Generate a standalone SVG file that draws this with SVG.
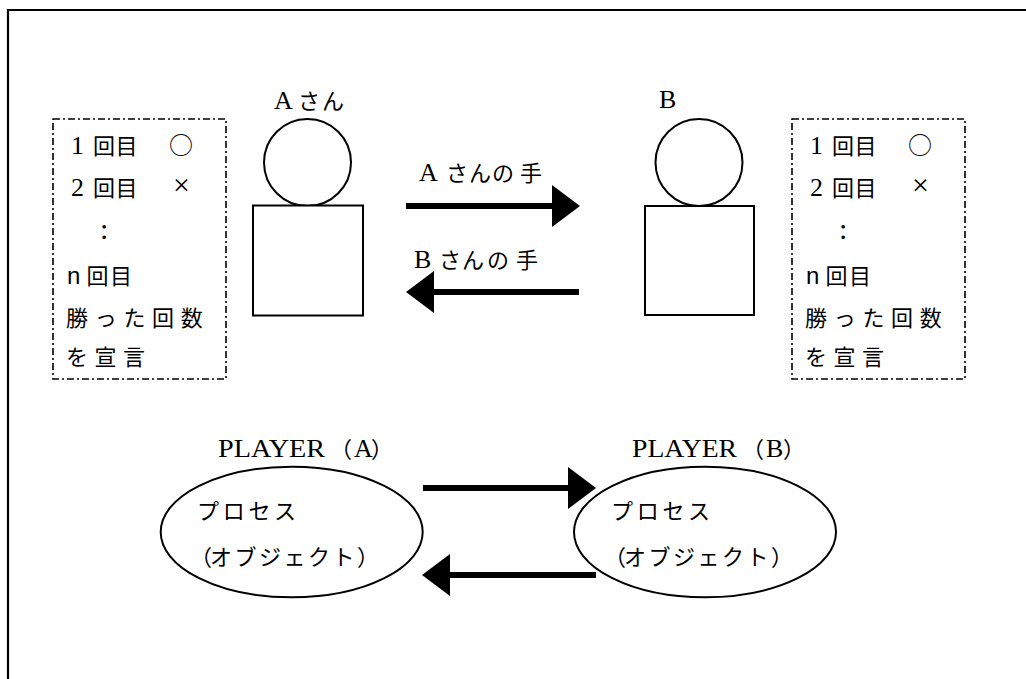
<svg xmlns="http://www.w3.org/2000/svg" width="1026" height="679" viewBox="0 0 1026 679">
<style>
.t{font-family:"Liberation Serif","Noto Sans CJK JP",serif;font-size:22px;fill:#000}
.j{font-family:"Noto Sans CJK JP","Liberation Serif",sans-serif;font-size:22px;fill:#000}
.L{font-size:26px}
.s{font-family:"Liberation Sans",sans-serif;font-size:24px}
.shape{fill:#fff;stroke:#000;stroke-width:2}
.dash{fill:none;stroke:#000;stroke-width:1.6;stroke-dasharray:7 3 2 3}
.arrow{stroke:#000;stroke-width:6;fill:none;marker-end:url(#head)}
</style>
<defs>
<marker id="head" markerUnits="userSpaceOnUse" markerWidth="28" markerHeight="42" refX="0" refY="21" orient="auto" viewBox="0 0 28 42">
<path d="M0,0 L28,21 L0,42 Z" fill="#000"/>
</marker>
<g id="tally">
<rect class="dash" x="53" y="119" width="173" height="260"/>
<text class="t" x="71 93 115.5" y="154"><tspan class="L">1</tspan>回目</text>
<text class="j" x="169" y="154" style="font-size:24px">○</text>
<text class="t" x="71 93 115.5" y="196"><tspan class="L">2</tspan>回目</text>
<text class="t" x="173" y="195" style="font-size:30px">×</text>
<text class="t" x="100" y="239" style="font-size:30px">:</text>
<text class="t" x="67 86.5 110" y="284"><tspan class="s">n</tspan>回目</text>
<text class="j" x="66" y="326" style="letter-spacing:6.7px">勝った回数</text>
<text class="j" x="66" y="365" style="letter-spacing:6.5px">を宣言</text>
</g>
</defs>
<path d="M8,679 L8,10 L1026,10" fill="none" stroke="#000" stroke-width="2.2"/>
<g id="tally-a"><use href="#tally"/></g>
<g id="tally-b"><use href="#tally" transform="translate(739,0)"/></g>
<g id="person-a">
<text class="t" x="274 298 322" y="109"><tspan class="L">A</tspan>さん</text>
<circle class="shape" cx="307.5" cy="162.5" r="43.5"/>
<rect class="shape" x="253" y="205.5" width="110" height="110"/>
</g>
<g id="person-b">
<text class="t L" x="659" y="108">B</text>
<circle class="shape" cx="699" cy="162.5" r="43.5"/>
<rect class="shape" x="645" y="206" width="109" height="109"/>
</g>
<g id="player-a">
<text class="t L" x="218" y="457" textLength="107" lengthAdjust="spacingAndGlyphs">PLAYER</text>
<text class="t" x="330 354 371" y="457">（<tspan class="L">A</tspan>）</text>
<ellipse class="shape" cx="291.7" cy="532" rx="131" ry="65.3"/>
<text class="j" x="197 222.7 248.4 274" y="519">プロセス</text>
<text class="j" x="190 210 234.5 259 283.5 308 332.5 357" y="565">（オブジェクト）</text>
</g>
<g id="player-b">
<text class="t L" x="632" y="457" textLength="105" lengthAdjust="spacingAndGlyphs">PLAYER</text>
<text class="t" x="742 766 783" y="457">（<tspan class="L">B</tspan>）</text>
<ellipse class="shape" cx="705" cy="532" rx="131" ry="65.3"/>
<text class="j" x="611 636.7 662.4 688" y="519">プロセス</text>
<text class="j" x="604 624 648.5 673 697.5 722 746.5 771" y="565">（オブジェクト）</text>
</g>
<g id="connectors">
<text class="t" x="419 446 469 492 520" y="181"><tspan class="L">A</tspan>さんの手</text>
<line class="arrow" x1="406" y1="206" x2="552" y2="206"/>
<text class="t" x="414 439 462 487 516" y="268"><tspan class="L">B</tspan>さんの手</text>
<line class="arrow" x1="579" y1="292" x2="434" y2="292"/>
<line class="arrow" x1="423" y1="488" x2="568" y2="488"/>
<line class="arrow" x1="596" y1="575" x2="450" y2="575"/>
</g>
</svg>
